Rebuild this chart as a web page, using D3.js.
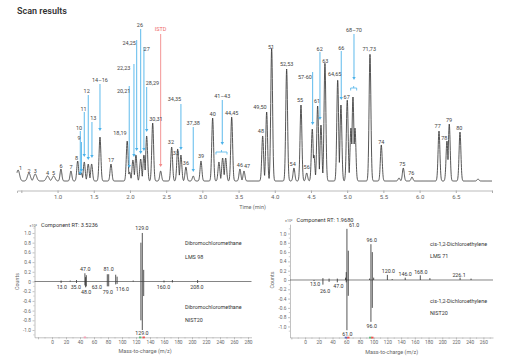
<!DOCTYPE html>
<html>
<head>
<meta charset="utf-8">
<script src="https://cdn.jsdelivr.net/npm/d3@7"></script>
<style>
  body { margin: 0; background: #fff; }
  svg text { font-family: Roboto, "Noto Sans", sans-serif; }
</style>
</head>
<body>
<div id="chart"></div>
<script>
// ---- chromatogram peaks (retention time in min, relative height)
const peakTimes = [0.455, 0.605, 0.692, 0.863, 0.946, 1.047, 1.185, 1.278, 1.309, 1.330, 1.369, 1.424, 1.471,
  1.586, 1.738, 1.962, 1.995, 2.041, 2.083, 2.148, 2.193, 2.231, 2.314, 2.424, 2.576, 2.659, 2.704, 2.773,
  2.874, 2.981, 3.142, 3.229, 3.280, 3.322, 3.405, 3.519, 3.575, 3.833, 3.888, 3.957, 4.164, 4.265, 4.362,
  4.441, 4.518, 4.541, 4.592, 4.638, 4.693, 4.869, 4.914, 5.001, 5.052, 5.080, 5.108, 5.315, 5.471, 5.716,
  5.775, 5.895, 6.268, 6.378, 6.410, 6.558, 6.807];
const peakHeights = [11, 8, 7, 5, 5, 12, 10, 20, 9, 8, 19, 17, 17,
  44, 17, 40, 9, 21, 26, 22, 26, 45, 58, 10, 34, 32, 26, 14,
  5, 20, 63, 19, 23, 23, 64, 12, 10, 45, 69, 133, 112, 13, 76,
  8, 52, 26, 75, 56, 118, 101, 76, 81, 53, 84, 53, 127, 36, 3,
  13, 4, 50, 40, 57, 49, 2];

// peak labels: text, time, height of the label baseline
const labelTexts = ["1", "2", "3", "4", "5", "6", "7", "8", "9", "10", "11", "12", "13", "14–16", "17",
  "18,19", "20,21", "22,23", "24,25", "26", "27", "28,29", "30,31", "32", "33", "34,35", "36", "37,38",
  "39", "40", "41–43", "44,45", "46", "47", "48", "49,50", "51", "52,53", "54", "55", "56", "57-60",
  "61", "62", "63", "64,65", "66", "67", "68–70", "71,73", "74", "75", "76", "77", "78", "79", "80"];
const labelTimes = [0.490, 0.605, 0.692, 0.863, 0.946, 1.047, 1.185, 1.264, 1.296, 1.296, 1.358, 1.402,
  1.493, 1.586, 1.738, 1.862, 1.913, 1.914, 1.990, 2.138, 2.231, 2.311, 2.359, 2.566, 2.635, 2.615, 2.773,
  2.874, 2.981, 3.142, 3.275, 3.405, 3.519, 3.616, 3.809, 3.796, 3.948, 4.164, 4.247, 4.348, 4.441, 4.417,
  4.583, 4.620, 4.698, 4.827, 4.918, 4.993, 5.094, 5.305, 5.471, 5.761, 5.885, 6.250, 6.341, 6.406, 6.548];
const labelHeights = [11, 8, 8, 6.5, 6.5, 13.5, 12, 21.5, 41, 51.5, 70.5, 88, 61, 99.5, 19, 46, 88, 111,
  136, 154, 130, 96, 60, 37, 26, 80, 16, 56, 23, 65, 83, 66, 14, 13, 48, 72, 132, 115, 15, 79, 12, 102.5,
  78, 130.5, 118.5, 105, 131.5, 82, 149, 130, 37, 15, 6.5, 53, 41.5, 59, 51.5];

// arrows: time, start height, tip height
const arrowTimes = [1.330, 1.314, 1.369, 1.424, 1.475, 1.586, 1.990, 2.055, 2.093, 2.148, 2.193, 2.231,
  2.704, 2.874, 3.275, 4.523, 4.624, 4.918, 5.094];
const arrowFrom = [39, 50, 69, 86, 59, 97, 95, 117, 141, 152, 134, 94, 77, 54, 81, 109, 129, 130, 147];
const arrowTo = [9, 6, 24, 21, 23, 50, 13, 24, 30, 27, 30, 49, 31, 9, 36, 56, 61, 81, 101];
const istd = { time: 2.424, from: 147, to: 14 };
const bracketStart = [3.188, 5.048];
const bracketEnd = [3.340, 5.131];
const bracketHeight = [29, 93];

const timeTicks = d3.range(0.5, 7.01, 0.5);

// ---- mass spectrum 1 (component RT 3.5236)
const lmsMz1 = [13, 26, 35, 47, 48, 49, 79, 81, 91, 93, 116, 127, 129, 131, 160, 172, 208];
const lmsInt1 = [0.02, 0.02, 0.03, 0.17, 0.09, 0.13, 0.15, 0.15, 0.14, 0.10, 0.02, 0.80, 1.00, 0.24, 0.02, 0.03, 0.03];
const nistMz1 = [13, 35, 47, 48, 49, 79, 81, 91, 93, 127, 129, 131, 160, 172, 208];
const nistInt1 = [-0.03, -0.03, -0.08, -0.12, -0.10, -0.10, -0.10, -0.06, -0.05, -0.80, -1.00, -0.30, -0.02, -0.02, -0.03];
const specLabels1 = ["129.0", "47.0", "81.0", "13.0", "35.0", "48.0", "63.0", "79.0", "116.0", "160.0", "208.0", "129.0"];
const specLabelMz1 = [128.5, 47.5, 80.8, 14, 34, 48.8, 64, 79.8, 100.6, 159.3, 207, 128.5];
const specLabelInt1 = [1.10, 0.26, 0.26, -0.11, -0.11, -0.22, -0.11, -0.22, -0.15, -0.11, -0.11, -1.07];

// ---- mass spectrum 2 (component RT 1.9680)
const lmsMz2 = [26, 35, 47, 59, 60, 61, 63, 94, 96, 98, 100, 120, 127, 146, 168, 182, 226, 242];
const lmsInt2 = [0.04, 0.03, 0.03, 0.05, 0.17, 1.10, 0.63, 0.03, 0.77, 0.60, 0.05, 0.11, 0.02, 0.05, 0.10, 0.04, 0.05, 0.03];
const nistMz2 = [13, 26, 35, 47, 60, 61, 63, 96, 98];
const nistInt2 = [-0.02, -0.10, -0.04, -0.05, -0.05, -1.08, -0.34, -0.90, -0.60];
const specLabels2 = ["61.0", "96.0", "120.0", "146.0", "168.0", "226.1", "13.0", "26.0", "47.0", "61.0", "96.0"];
const specLabelMz2 = [71.4, 97.2, 121.4, 145.8, 168.7, 224.5, 14.6, 29.2, 48.5, 61.7, 97.2];
const specLabelInt2 = [1.17, 0.86, 0.18, 0.13, 0.17, 0.11, -0.10, -0.24, -0.14, -1.16, -0.99];

const svg = d3.select("#chart").append("svg")
  .attr("width", 512)
  .attr("height", 362);

svg.append("text")
  .attr("x", 17).attr("y", 14.3)
  .attr("font-size", 9)
  .attr("font-weight", 600)
  .attr("fill", "#333")
  .text("Scan results");

// ================= chromatogram
const xT = d3.scaleLinear().domain([0.44, 7.0]).range([17, 492]);
const yT = d3.scaleLinear().domain([0, 140]).range([181, 41]);

const peaks = peakTimes.map((t, i) => ({ t: t, h: peakHeights[i] }));
const sigmaOf = t => t < 1 ? 0.02 : 0.0125;
const samples = d3.range(0.44, 7.0001, 0.002).map(t => [t,
  d3.max(peaks, p => p.h * Math.exp(-((t - p.t) ** 2) / (2 * sigmaOf(p.t) ** 2)))]);

const chrom = svg.append("g");

chrom.append("path")
  .datum(samples)
  .attr("fill", "none")
  .attr("stroke", "#383838")
  .attr("stroke-width", 0.85)
  .attr("d", d3.line().x(d => xT(d[0])).y(d => yT(d[1])));

// axis
const axT = chrom.append("g")
  .attr("transform", "translate(0,190.5)")
  .call(d3.axisBottom(xT).tickValues(timeTicks).tickSizeOuter(0).tickSize(2.5).tickPadding(2)
    .tickFormat(d => (d < 0.99 || d > 6.9) ? "" : d.toFixed(1)));
axT.select(".domain").attr("stroke", "#aaa").attr("stroke-width", 0.8);
axT.selectAll(".tick line").attr("stroke", "#aaa");
axT.selectAll(".tick text").attr("font-size", 6).attr("fill", "#666");

chrom.append("text")
  .attr("x", 252.5).attr("y", 209)
  .attr("text-anchor", "middle")
  .attr("font-size", 5.5)
  .attr("fill", "#666")
  .text("Time (min)");

// arrows
const blue = "#4cb2ea";
function arrow(g, t, from, to, color) {
  const x = xT(t), y0 = yT(from), y1 = yT(to);
  g.append("line")
    .attr("x1", x).attr("x2", x)
    .attr("y1", y0).attr("y2", y1 - 2)
    .attr("stroke", color).attr("stroke-width", 0.9);
  g.append("path")
    .attr("d", `M${x - 1.7},${y1 - 3}L${x + 1.7},${y1 - 3}L${x},${y1}Z`)
    .attr("fill", color);
}
arrowTimes.forEach((t, i) => arrow(chrom, t, arrowFrom[i], arrowTo[i], blue));
arrow(chrom, istd.time, istd.from, istd.to, "#f28a8a");

bracketStart.forEach((t0, i) => {
  const x0 = xT(t0), x1 = xT(bracketEnd[i]), y = yT(bracketHeight[i]);
  chrom.append("path")
    .attr("d", `M${x0},${y + 2.5}V${y}H${x1}V${y + 2.5}M${(x0 + x1) / 2},${y}V${y - 2}`)
    .attr("fill", "none")
    .attr("stroke", blue)
    .attr("stroke-width", 0.8);
});

// labels
chrom.selectAll("text.peak")
  .data(labelTexts)
  .join("text")
  .attr("class", "peak")
  .attr("x", (d, i) => xT(labelTimes[i]))
  .attr("y", (d, i) => yT(labelHeights[i]))
  .attr("text-anchor", "middle")
  .attr("font-size", 5.5)
  .attr("fill", "#444")
  .text(d => d);

chrom.append("text")
  .attr("x", xT(istd.time)).attr("y", yT(150.5))
  .attr("text-anchor", "middle")
  .attr("font-size", 5.5)
  .attr("fill", "#ee6b6b")
  .text("ISTD");

// ================= spectra
const fmtY = d => Math.abs(d) < 1e-9 ? "0" : (d < 0 ? "-" : "") + Math.abs(d).toFixed(1);

function drawSpectrum(o) {
  const g = svg.append("g");
  const x = d3.scaleLinear().domain(o.xDomain).range(o.xRange);
  const y = d3.scaleLinear().domain(o.yDomain).range(o.yRange);

  // minor ticks
  const minorY = d3.range(-11, 12).filter(v => v % 2 !== 0).map(v => v / 10)
    .filter(v => v >= o.yDomain[0] && v <= o.yDomain[1]);
  g.selectAll("line.my").data(minorY).join("line")
    .attr("x1", o.xRange[0] - 1.2).attr("x2", o.xRange[0])
    .attr("y1", d => y(d)).attr("y2", d => y(d))
    .attr("stroke", "#999").attr("stroke-width", 0.5);

  const ay = g.append("g")
    .attr("transform", `translate(${o.xRange[0]},0)`)
    .call(d3.axisLeft(y).tickValues(d3.range(-5, 6).map(v => v / 5)).tickFormat(fmtY)
      .tickSize(2).tickSizeOuter(0).tickPadding(1.5));
  ay.select(".domain").attr("stroke", "#999").attr("stroke-width", 0.6);
  ay.selectAll(".tick line").attr("stroke", "#999").attr("stroke-width", 0.6);
  ay.selectAll(".tick text").attr("font-size", 4.8).attr("fill", "#666");

  const minorX = d3.range(-10, o.xDomain[1], 20);
  g.selectAll("line.mx").data(minorX).join("line")
    .attr("x1", d => x(d)).attr("x2", d => x(d))
    .attr("y1", o.yRange[0]).attr("y2", o.yRange[0] + 1.2)
    .attr("stroke", "#999").attr("stroke-width", 0.5);

  const ax = g.append("g")
    .attr("transform", `translate(0,${o.yRange[0]})`)
    .call(d3.axisBottom(x).tickValues(d3.range(-20, o.xDomain[1], 20))
      .tickFormat(d => d < 0 ? "" : d).tickSize(2).tickSizeOuter(0).tickPadding(1.5));
  ax.select(".domain").attr("stroke", "#999").attr("stroke-width", 0.6);
  ax.selectAll(".tick line").attr("stroke", "#999").attr("stroke-width", 0.6);
  ax.selectAll(".tick text").attr("font-size", 4.8).attr("fill", "#666");

  // zero line
  g.append("line")
    .attr("x1", o.xRange[0]).attr("x2", o.xRange[1])
    .attr("y1", y(0)).attr("y2", y(0))
    .attr("stroke", "#333").attr("stroke-width", 0.6);

  // bars
  const bars = o.lmsMz.map((m, i) => [m, o.lmsInt[i]])
    .concat(o.nistMz.map((m, i) => [m, o.nistInt[i]]));
  g.selectAll("line.bar").data(bars).join("line")
    .attr("x1", d => x(d[0])).attr("x2", d => x(d[0]))
    .attr("y1", y(0)).attr("y2", d => y(d[1]))
    .attr("stroke", "#2a2a2a").attr("stroke-width", 0.8);

  // peak labels
  g.selectAll("text.lab").data(o.labels).join("text")
    .attr("x", (d, i) => x(o.labelMz[i]))
    .attr("y", (d, i) => y(o.labelInt[i]))
    .attr("dy", "0.35em")
    .attr("text-anchor", "middle")
    .attr("font-size", 5.3)
    .attr("fill", "#333")
    .text(d => d);

  // ion markers on the axis
  g.selectAll("rect.mk").data(o.markers).join("rect")
    .attr("x", d => x(d[0]) - 1.2).attr("y", o.yRange[0] - 0.8)
    .attr("width", 2.4).attr("height", 1.8)
    .attr("fill", d => d[1]);

  // headings
  g.append("text")
    .attr("x", o.xRange[0] - 5).attr("y", o.titleY)
    .attr("font-size", 3.6).attr("fill", "#666")
    .text("×10²");
  g.append("text")
    .attr("x", o.xRange[0] + 6.5).attr("y", o.titleY + 0.5)
    .attr("font-size", 5.6).attr("fill", "#333")
    .text(o.title);

  g.append("text")
    .attr("transform", `translate(${o.xRange[0] - 16},${y(0)}) rotate(-90)`)
    .attr("text-anchor", "middle")
    .attr("font-size", 5.3).attr("fill", "#666")
    .text("Counts");
  g.append("text")
    .attr("x", o.xTitleX).attr("y", o.yRange[0] + 16)
    .attr("text-anchor", "middle")
    .attr("font-size", 5.5).attr("fill", "#666")
    .text("Mass-to-charge (m/z)");

  o.names.forEach((n, i) => {
    g.append("text")
      .attr("x", o.nameX).attr("y", o.nameY[i])
      .attr("font-size", 5.4).attr("fill", "#333")
      .text(n);
  });
}

drawSpectrum({
  xDomain: [-25, 285], xRange: [34.5, 251.5],
  yDomain: [-1.15, 1.15], yRange: [337.3, 225.7],
  lmsMz: lmsMz1, lmsInt: lmsInt1, nistMz: nistMz1, nistInt: nistInt1,
  labels: specLabels1, labelMz: specLabelMz1, labelInt: specLabelInt1,
  markers: [[47, "#f4a3b8"], [126, "#5cbf7a"], [131, "#ef5350"]],
  title: "Component RT: 3.5236", titleY: 226.5,
  xTitleX: 145,
  names: ["Dibromochloromethane", "LMS 98", "Dibromochloromethane", "NIST20"],
  nameX: 185, nameY: [245.3, 258.7, 308.7, 322]
});

drawSpectrum({
  xDomain: [-22, 274], xRange: [290, 493],
  yDomain: [-1.237, 1.2], yRange: [337.5, 224.2],
  lmsMz: lmsMz2, lmsInt: lmsInt2, nistMz: nistMz2, nistInt: nistInt2,
  labels: specLabels2, labelMz: specLabelMz2, labelInt: specLabelInt2,
  markers: [[59.5, "#5c6bc0"], [63, "#ef5350"], [95, "#5cbf7a"], [98, "#ef5350"]],
  title: "Component RT: 1.9680", titleY: 221.5,
  xTitleX: 391.7,
  names: ["cis-1,2-Dichloroethylene", "LMS 71", "cis-1,2-Dichloroethylene", "NIST20"],
  nameX: 430, nameY: [246.3, 258, 302.7, 314.7]
});
</script>
</body>
</html>
